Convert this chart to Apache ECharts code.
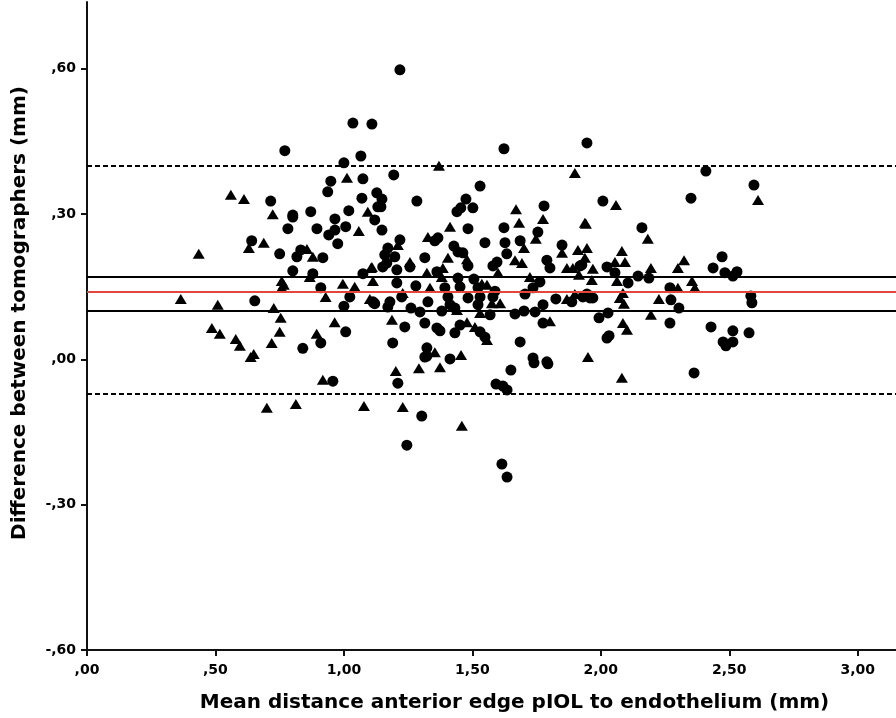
<!DOCTYPE html>
<html>
<head>
<meta charset="utf-8">
<title>Bland-Altman</title>
<script src="https://cdn.jsdelivr.net/npm/echarts@6/dist/echarts.min.js"></script>
<style>
  html, body { margin: 0; padding: 0; background: #fff; }
  #chart { width: 896px; height: 718px; }
</style>
</head>
<body>
<div id="chart"></div>
<script>
// tick values shown on the axes
var xTicks = [0, 0.5, 1, 1.5, 2, 2.5, 3];
var yTicks = [-0.6, -0.3, 0, 0.3, 0.6];

// horizontal reference lines: upper LoA, upper CI, mean, lower CI, lower LoA
var refValues = [0.395, 0.171, 0.137, 0.105, -0.072];
var refKinds = ['dashed', 'solid', 'mean', 'solid', 'dashed'];

// circles: [mean distance, difference]
var circles = [
  [1.035, 0.488], [1.109, 0.486], [0.770, 0.431], [1.066, 0.420], [1.000, 0.406],
  [0.949, 0.368], [1.074, 0.373], [0.937, 0.346], [1.128, 0.344], [0.715, 0.327],
  [1.070, 0.333], [1.132, 0.315], [1.019, 0.307], [0.871, 0.305], [0.801, 0.298],
  [1.218, 0.598], [1.623, 0.435], [1.946, 0.447], [1.194, 0.381], [1.530, 0.358],
  [1.148, 0.331], [1.144, 0.315], [1.284, 0.327], [1.475, 0.331], [1.502, 0.313],
  [1.455, 0.313], [1.440, 0.305], [1.779, 0.317], [2.409, 0.389], [2.596, 0.360],
  [2.008, 0.327], [2.351, 0.333],
  [0.801, 0.294], [0.965, 0.290], [1.120, 0.288], [0.782, 0.270], [0.895, 0.270],
  [0.965, 0.267], [0.941, 0.257], [1.007, 0.274], [0.976, 0.239], [0.641, 0.245],
  [0.750, 0.218], [0.832, 0.226], [0.817, 0.212], [0.918, 0.210], [0.801, 0.183],
  [0.879, 0.177], [1.074, 0.177], [0.910, 0.148], [1.023, 0.129], [0.653, 0.121],
  [1.000, 0.110], [1.116, 0.117], [1.007, 0.057], [0.910, 0.034], [0.840, 0.023],
  [1.623, 0.272], [1.755, 0.263], [1.483, 0.270], [1.148, 0.267], [1.366, 0.251],
  [1.354, 0.245], [1.218, 0.247], [1.549, 0.241], [1.428, 0.234], [1.444, 0.222],
  [1.463, 0.220], [1.627, 0.241], [1.634, 0.218], [1.686, 0.245], [1.849, 0.236],
  [1.171, 0.230], [1.159, 0.216], [1.198, 0.212], [1.151, 0.191], [1.167, 0.199],
  [1.206, 0.185], [1.257, 0.191], [1.315, 0.210], [1.362, 0.181], [1.483, 0.193],
  [1.596, 0.201], [1.580, 0.193], [1.790, 0.205], [1.802, 0.189], [1.919, 0.193],
  [1.444, 0.168], [1.506, 0.166], [1.763, 0.160], [1.206, 0.158], [1.280, 0.152],
  [1.393, 0.148], [1.452, 0.150], [1.522, 0.148], [1.588, 0.141], [1.736, 0.148],
  [1.225, 0.129], [1.405, 0.129], [1.483, 0.127], [1.530, 0.129], [1.580, 0.129],
  [1.705, 0.135], [1.825, 0.125], [1.887, 0.119], [1.930, 0.129], [1.113, 0.119],
  [1.179, 0.119], [1.327, 0.119], [1.413, 0.113], [1.522, 0.113], [1.120, 0.115],
  [1.261, 0.106], [1.381, 0.100], [1.432, 0.106], [1.296, 0.098], [1.569, 0.092],
  [1.666, 0.094], [1.701, 0.100], [1.744, 0.098], [1.775, 0.113], [1.171, 0.108],
  [1.237, 0.067], [1.315, 0.075], [1.362, 0.065], [1.374, 0.059], [1.432, 0.055],
  [1.452, 0.071], [1.530, 0.057], [1.549, 0.046], [1.775, 0.075], [1.190, 0.034],
  [1.686, 0.036], [1.323, 0.024], [1.413, 0.001], [1.315, 0.005], [1.736, 0.003],
  [1.790, -0.005],
  [2.160, 0.272], [1.926, 0.195], [2.024, 0.191], [2.055, 0.179], [2.106, 0.158],
  [2.145, 0.172], [2.187, 0.168], [2.472, 0.212], [2.437, 0.189], [2.483, 0.179],
  [2.514, 0.172], [2.530, 0.181], [2.269, 0.148], [2.273, 0.123], [2.304, 0.106],
  [1.946, 0.135], [1.969, 0.127], [1.958, 0.127], [2.584, 0.131], [2.588, 0.117],
  [2.028, 0.096], [1.993, 0.086], [2.269, 0.075], [2.429, 0.067], [2.514, 0.059],
  [2.577, 0.055], [2.032, 0.049], [2.024, 0.044], [2.476, 0.036], [2.514, 0.036],
  [2.487, 0.028],
  [0.957, -0.045], [1.323, 0.007], [1.210, -0.049], [1.650, -0.022], [1.740, -0.007],
  [1.794, -0.009], [1.592, -0.051], [1.619, -0.055], [1.635, -0.063], [1.303, -0.117],
  [1.245, -0.177], [1.615, -0.216], [1.635, -0.243], [2.363, -0.028]
];

// triangles: [mean distance, difference]
var triangles = [
  [1.012, 0.375], [0.560, 0.340], [0.611, 0.331], [1.093, 0.305], [0.723, 0.300],
  [1.370, 0.400], [1.899, 0.385], [1.670, 0.310], [2.059, 0.319], [2.612, 0.329],
  [1.058, 0.265], [0.630, 0.230], [0.688, 0.241], [0.435, 0.218], [0.856, 0.228],
  [0.879, 0.212], [0.867, 0.170], [1.105, 0.189], [1.113, 0.162], [0.758, 0.162],
  [0.766, 0.154], [0.758, 0.148], [0.996, 0.156], [1.042, 0.150], [0.929, 0.129],
  [0.365, 0.125], [0.509, 0.113], [0.727, 0.106], [1.101, 0.125], [0.754, 0.086],
  [0.964, 0.077], [0.486, 0.065], [0.517, 0.053], [0.750, 0.057], [0.579, 0.042],
  [0.595, 0.028], [0.894, 0.053], [0.719, 0.034], [0.649, 0.011], [0.637, 0.005],
  [1.682, 0.282], [1.775, 0.290], [1.747, 0.249], [1.938, 0.282], [1.413, 0.274],
  [1.327, 0.253], [1.210, 0.236], [1.701, 0.230], [1.849, 0.220], [1.911, 0.226],
  [1.938, 0.210], [1.109, 0.191], [1.257, 0.201], [1.405, 0.210], [1.385, 0.189],
  [1.479, 0.207], [1.600, 0.179], [1.666, 0.205], [1.693, 0.199], [1.868, 0.189],
  [1.891, 0.189], [1.323, 0.179], [1.381, 0.170], [1.724, 0.170], [1.915, 0.175],
  [1.335, 0.148], [1.537, 0.156], [1.557, 0.154], [1.229, 0.137], [1.868, 0.125],
  [1.899, 0.135], [1.576, 0.116], [1.608, 0.116], [1.440, 0.102], [1.530, 0.096],
  [1.187, 0.082], [1.479, 0.077], [1.510, 0.067], [1.557, 0.040], [1.802, 0.079],
  [1.354, 0.015], [1.456, 0.009],
  [1.942, 0.280], [2.183, 0.249], [1.946, 0.230], [2.082, 0.224], [2.055, 0.201],
  [2.094, 0.201], [1.969, 0.187], [1.965, 0.164], [2.063, 0.162], [2.195, 0.189],
  [2.324, 0.205], [2.300, 0.189], [2.355, 0.162], [2.366, 0.148], [2.300, 0.148],
  [2.226, 0.125], [2.086, 0.137], [2.074, 0.127], [2.090, 0.115], [2.195, 0.092],
  [2.086, 0.075], [2.102, 0.061], [1.950, 0.005],
  [0.918, -0.042], [0.700, -0.100], [0.813, -0.092], [1.078, -0.096], [1.202, -0.024],
  [1.292, -0.018], [1.374, -0.016], [1.229, -0.098], [1.459, -0.137], [2.082, -0.038]
];

// SPSS style labels: ",60", "-,30", "1,50"
function spssLabel(v) {
    var s = Math.abs(v).toFixed(2).replace('.', ',');
    if (s.charAt(0) === '0') s = s.substring(1);
    return (v < 0 ? '-' : '') + s;
}

var lineStyles = {
    dashed: { color: '#000', width: 2, type: [5, 3] },
    solid: { color: '#000', width: 2, type: 'solid' },
    mean: { color: '#e5463c', width: 2, type: 'solid' }
};

var refLines = [];
for (var i = 0; i < refValues.length; i++) {
    refLines.push({ yAxis: refValues[i], lineStyle: lineStyles[refKinds[i]] });
}

var labelFont = { fontFamily: 'DejaVu Sans', fontWeight: 'bold', fontSize: 14, color: '#000' };
var titleFont = { fontFamily: 'DejaVu Sans', fontWeight: 'bold', fontSize: 20, color: '#000' };

var chart = echarts.init(document.getElementById('chart'));
var option = {
    animation: false,
    backgroundColor: '#fff',
    grid: { left: 87, right: 0, top: 2, bottom: 68 },
    xAxis: {
        type: 'value',
        min: 0,
        max: 3.149,
        name: 'Mean distance anterior edge pIOL to endothelium (mm)',
        nameLocation: 'middle',
        nameGap: 43,
        nameTextStyle: Object.assign({ padding: [0, 0, 0, 46] }, titleFont),
        splitLine: { show: false },
        axisLine: { onZero: false, lineStyle: { color: '#111', width: 2 } },
        axisTick: { customValues: xTicks, length: 6, lineStyle: { color: '#111', width: 2 } },
        axisLabel: Object.assign({ customValues: xTicks, margin: 13, formatter: spssLabel }, labelFont)
    },
    yAxis: {
        type: 'value',
        min: -0.6,
        max: 0.738,
        name: 'Difference between tomographers (mm)',
        nameLocation: 'middle',
        nameGap: 57,
        nameRotate: 90,
        nameTextStyle: Object.assign({ padding: [0, 0, 0, 26] }, titleFont),
        splitLine: { show: false },
        axisLine: { onZero: false, lineStyle: { color: '#111', width: 2 } },
        axisTick: { customValues: yTicks, length: 6, lineStyle: { color: '#111', width: 2 } },
        axisLabel: Object.assign({ customValues: yTicks, margin: 11, formatter: spssLabel }, labelFont)
    },
    series: [
        {
            name: 'lines',
            type: 'scatter',
            data: [],
            silent: true,
            markLine: {
                silent: true,
                symbol: ['none', 'none'],
                label: { show: false },
                data: refLines
            }
        },
        {
            name: 'circle',
            type: 'scatter',
            symbol: 'circle',
            symbolSize: 11,
            itemStyle: { color: '#000', opacity: 1 },
            data: circles
        },
        {
            name: 'triangle',
            type: 'scatter',
            symbol: 'triangle',
            symbolSize: [12, 10],
            itemStyle: { color: '#000', opacity: 1 },
            data: triangles
        }
    ]
};
chart.setOption(option);
</script>
</body>
</html>
